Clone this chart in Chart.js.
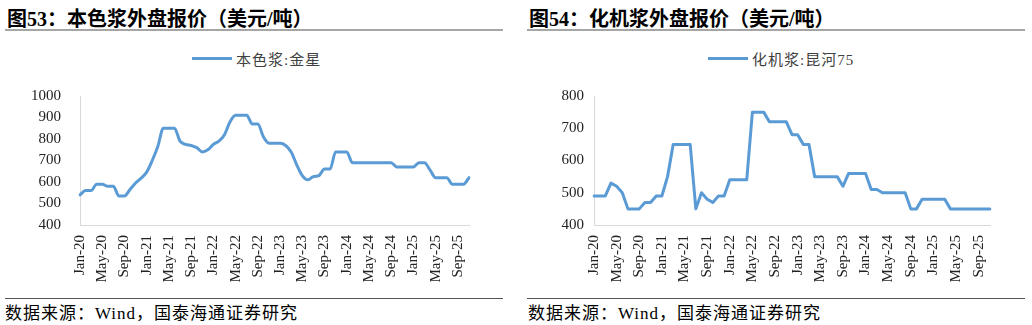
<!DOCTYPE html>
<html>
<head>
<meta charset="utf-8">
<script src="https://cdn.jsdelivr.net/npm/chart.js@4.4.1/dist/chart.umd.min.js"></script>
<style>
body{margin:0;width:1032px;height:325px;background:#fff;position:relative;overflow:hidden;font-family:"Liberation Serif","Noto Sans CJK SC",serif;}
.panel{position:absolute;top:0;width:516px;height:325px;}
.title{position:absolute;top:3px;font-size:20px;font-weight:bold;color:#000;white-space:nowrap;font-family:"Liberation Serif","Noto Sans CJK SC",serif;}
.rule{position:absolute;width:498px;height:0;}
.legend{position:absolute;top:48px;left:192px;font-size:15px;color:#404040;white-space:nowrap;display:flex;align-items:center;letter-spacing:1px;font-family:"Liberation Serif","Noto Sans CJK SC",serif;}
.legend i{display:inline-block;width:40px;height:3px;background:#5b9bd5;margin-right:4px;}
.box{position:absolute;left:0;width:516px;}
.foot{position:absolute;top:299px;font-size:17px;color:#000;white-space:nowrap;letter-spacing:1px;font-family:"Liberation Serif","Noto Sans CJK SC",serif;}
</style>
</head>
<body>
<div class="panel" style="left:0">
  <div class="title" style="left:7px">图53：本色浆外盘报价（美元/吨）</div>
  <div class="rule" style="left:5px;top:29px;border-top:2px solid #a6a6a6"></div>
  <div class="legend"><i></i>本色浆:金星</div>
  <div class="box" style="top:68px;height:228px"><canvas id="c1"></canvas></div>
  <div class="rule" style="left:5px;top:298px;border-top:1px solid #555"></div>
  <div class="foot" style="left:5px">数据来源：Wind，国泰海通证券研究</div>
</div>
<div class="panel" style="left:516px">
  <div class="title" style="left:13px">图54：化机浆外盘报价（美元/吨）</div>
  <div class="rule" style="left:11px;top:29px;border-top:2px solid #a6a6a6"></div>
  <div class="legend"><i></i>化机浆:昆河75</div>
  <div class="box" style="top:77px;height:219px"><canvas id="c2"></canvas></div>
  <div class="rule" style="left:11px;top:298px;border-top:1px solid #555"></div>
  <div class="foot" style="left:12px">数据来源：Wind，国泰海通证券研究</div>
</div>
<script>
// monthly, Jan-20 .. Nov-25
const months = [
  'Jan-20','Feb-20','Mar-20','Apr-20','May-20','Jun-20','Jul-20','Aug-20','Sep-20','Oct-20','Nov-20','Dec-20',
  'Jan-21','Feb-21','Mar-21','Apr-21','May-21','Jun-21','Jul-21','Aug-21','Sep-21','Oct-21','Nov-21','Dec-21',
  'Jan-22','Feb-22','Mar-22','Apr-22','May-22','Jun-22','Jul-22','Aug-22','Sep-22','Oct-22','Nov-22','Dec-22',
  'Jan-23','Feb-23','Mar-23','Apr-23','May-23','Jun-23','Jul-23','Aug-23','Sep-23','Oct-23','Nov-23','Dec-23',
  'Jan-24','Feb-24','Mar-24','Apr-24','May-24','Jun-24','Jul-24','Aug-24','Sep-24','Oct-24','Nov-24','Dec-24',
  'Jan-25','Feb-25','Mar-25','Apr-25','May-25','Jun-25','Jul-25','Aug-25','Sep-25','Oct-25','Nov-25'
];

// 本色浆:金星
const unbleached = [
  540,560,560,590,590,580,580,535,535,565,595,618,
  646,700,765,850,850,850,790,775,770,760,740,750,
  775,790,820,880,910,910,910,870,870,810,780,780,
  780,770,740,680,630,610,625,630,660,660,740,740,
  740,690,690,690,690,690,690,690,690,670,670,670,
  670,690,690,655,620,620,620,590,590,590,620
];

// 化机浆:昆河75
const mechanical = [
  490,490,490,530,520,500,450,450,450,470,470,490,
  490,550,650,650,650,650,450,500,480,470,490,490,
  540,540,540,540,750,750,750,720,720,720,720,680,
  680,650,650,550,550,550,550,550,520,560,560,560,
  560,510,510,500,500,500,500,500,450,450,480,480,
  480,480,480,450,450,450,450,450,450,450,450
];

const yRange1 = [400, 1000];
const yRange2 = [400, 800];
const labelEvery = 4;

const tickFont = { family: '"Liberation Serif", "Times New Roman", serif', size: 15 };

function makeChart(id, label, values, yr, yWidth, yPad, padRight, smooth){
    const ctx = document.getElementById(id);
    return new Chart(ctx, {
        type: 'line',
        data: { labels: months, datasets: [{
            label, data: values,
            borderColor: '#5b9bd5', borderWidth: 3, pointRadius: 0,
            borderJoinStyle: 'round', borderCapStyle: 'round',
            cubicInterpolationMode: smooth ? 'monotone' : 'default', tension: 0
        }]},
        options: {
            responsive: true, maintainAspectRatio: false, animation: false,
            layout: { padding: { top: 0, right: padRight, left: 0, bottom: 0 } },
            plugins: { legend: { display: false }, tooltip: { enabled: false } },
            scales: {
                x: {
                    grid: { display: false, drawTicks: false },
                    border: { display: true, color: '#d9d9d9', width: 1 },
                    ticks: {
                        autoSkip: false, minRotation: 90, maxRotation: 90, padding: 10,
                        color: '#222', font: tickFont,
                        callback: (v, i) => i % labelEvery === 0 ? months[i] : ''
                    },
                    afterFit: s => { s.height = 71; }
                },
                y: {
                    min: yr[0], max: yr[1],
                    grid: { display: false, drawTicks: false },
                    border: { display: true, color: '#d9d9d9', width: 1 },
                    ticks: {
                        stepSize: 100, autoSkip: false, padding: yPad,
                        color: '#222', font: tickFont,
                        callback: v => String(v)
                    },
                    afterFit: s => { s.width = yWidth; }
                }
            }
        }
    });
}

makeChart('c1', '本色浆:金星', unbleached, yRange1, 80, 19, 47, true);
makeChart('c2', '化机浆:昆河75', mechanical, yRange2, 78, 10, 42, false);
</script>
</body>
</html>
